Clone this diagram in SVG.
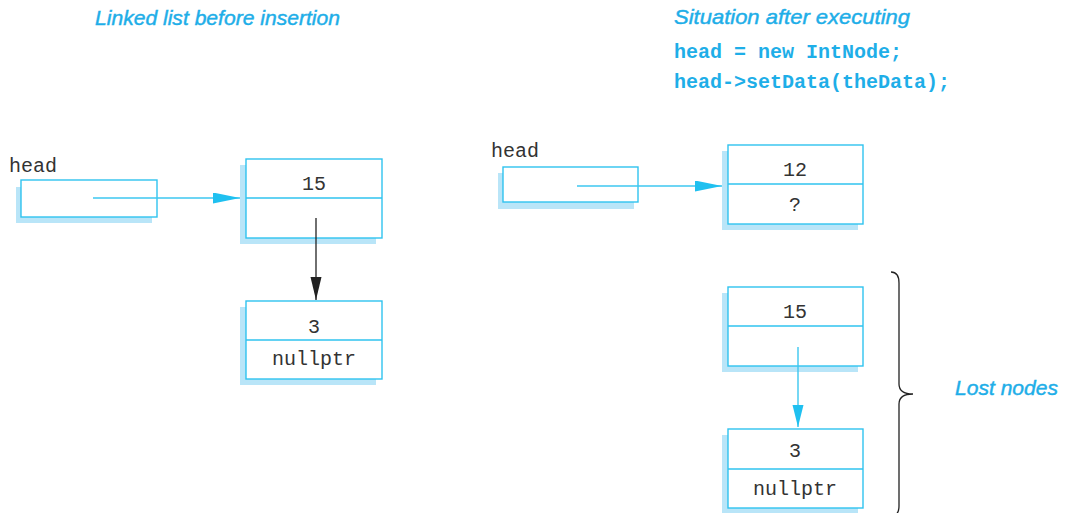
<svg xmlns="http://www.w3.org/2000/svg" width="1065" height="513" viewBox="0 0 1065 513">
<style>
.box{fill:#fff;stroke:#2fc3ef;stroke-width:1.4}
.shadow{fill:#b9e5f8;stroke:none}
.div{stroke:#2fc3ef;stroke-width:1.4}
.mono{font-family:"Liberation Mono","DejaVu Sans Mono",monospace;font-size:20px;fill:#333}
.val{text-anchor:middle}
.title{font-family:"Liberation Sans","DejaVu Sans",sans-serif;font-style:italic;font-size:21px;fill:#1eaee8;stroke:#1eaee8;stroke-width:0.45}
.code{font-family:"Liberation Mono","DejaVu Sans Mono",monospace;font-size:20px;font-weight:bold;fill:#1eaee8}
.blue{stroke:#3cc7f0;stroke-width:1.4;fill:none}
.black{stroke:#222;stroke-width:1.3;fill:none}
</style>
<defs>
<marker id="ab" markerUnits="userSpaceOnUse" markerWidth="28" markerHeight="12" refX="27" refY="5.5" orient="auto">
<path d="M0,0 L27,5.5 L0,11 z" fill="#1fc0f0"/>
</marker>
<marker id="ak" markerUnits="userSpaceOnUse" markerWidth="24" markerHeight="12" refX="23" refY="5.5" orient="auto">
<path d="M0,0 L23,5.5 L0,11 z" fill="#222"/>
</marker>
<marker id="abv" markerUnits="userSpaceOnUse" markerWidth="24" markerHeight="12" refX="22" refY="5.5" orient="auto">
<path d="M0,0 L22,5.5 L0,11 z" fill="#1fc0f0"/>
</marker>
</defs>

<g id="titles">
<text class="title" x="95" y="25" textLength="245" lengthAdjust="spacingAndGlyphs">Linked list before insertion</text>
<text class="title" x="674" y="24" textLength="236" lengthAdjust="spacingAndGlyphs">Situation after executing</text>
<text class="code" x="674" y="58">head = new IntNode;</text>
<text class="code" x="674" y="88">head-&gt;setData(theData);</text>
</g>

<g id="head-left">
<text class="mono" x="9" y="172">head</text>
<rect class="shadow" x="16" y="187" width="136" height="36"/>
<rect class="box" x="21" y="180" width="136" height="37"/>
</g>

<g id="node15-left">
<rect class="shadow" x="240" y="165" width="136" height="79"/>
<rect class="box" x="246" y="159" width="136" height="79"/>
<line class="div" x1="246" y1="198" x2="382" y2="198"/>
<text class="mono val" x="314" y="190">15</text>
</g>

<g id="node3-left">
<rect class="shadow" x="240" y="307" width="136" height="78"/>
<rect class="box" x="246" y="301" width="136" height="78"/>
<line class="div" x1="246" y1="340" x2="382" y2="340"/>
<text class="mono val" x="314" y="333">3</text>
<text class="mono val" x="314" y="365">nullptr</text>
</g>

<g id="head-right">
<text class="mono" x="491" y="157">head</text>
<rect class="shadow" x="498" y="173" width="136" height="36"/>
<rect class="box" x="503" y="167" width="135" height="35"/>
</g>

<g id="node12-right">
<rect class="shadow" x="722" y="151" width="136" height="79"/>
<rect class="box" x="728" y="145" width="135" height="79"/>
<line class="div" x1="728" y1="184" x2="863" y2="184"/>
<text class="mono val" x="795" y="176">12</text>
<text class="mono val" x="795" y="211">?</text>
</g>

<g id="node15-right">
<rect class="shadow" x="722" y="293" width="136" height="79"/>
<rect class="box" x="728" y="287" width="135" height="79"/>
<line class="div" x1="728" y1="326" x2="863" y2="326"/>
<text class="mono val" x="795" y="318">15</text>
</g>

<g id="node3-right">
<rect class="shadow" x="722" y="435" width="136" height="79"/>
<rect class="box" x="728" y="429" width="135" height="79"/>
<line class="div" x1="728" y1="469" x2="863" y2="469"/>
<text class="mono val" x="795" y="457">3</text>
<text class="mono val" x="795" y="495">nullptr</text>
</g>

<g id="lost-nodes">
<path class="black" d="M891,272 C897,272 899,276 899,283 L899,384 C899,390 903,394 913,394 C903,394 899,398 899,404 L899,506 C899,512 897,516 891,516"/>
<text class="title" x="955" y="395" textLength="103" lengthAdjust="spacingAndGlyphs">Lost nodes</text>
</g>

<g id="connectors">
<line class="blue" x1="93" y1="198" x2="240" y2="198" marker-end="url(#ab)"/>
<line class="black" x1="316" y1="218" x2="316" y2="300" marker-end="url(#ak)"/>
<line class="blue" x1="577" y1="186" x2="722" y2="186" marker-end="url(#ab)"/>
<line class="blue" x1="798" y1="347" x2="798" y2="427" marker-end="url(#abv)"/>
</g>
</svg>
